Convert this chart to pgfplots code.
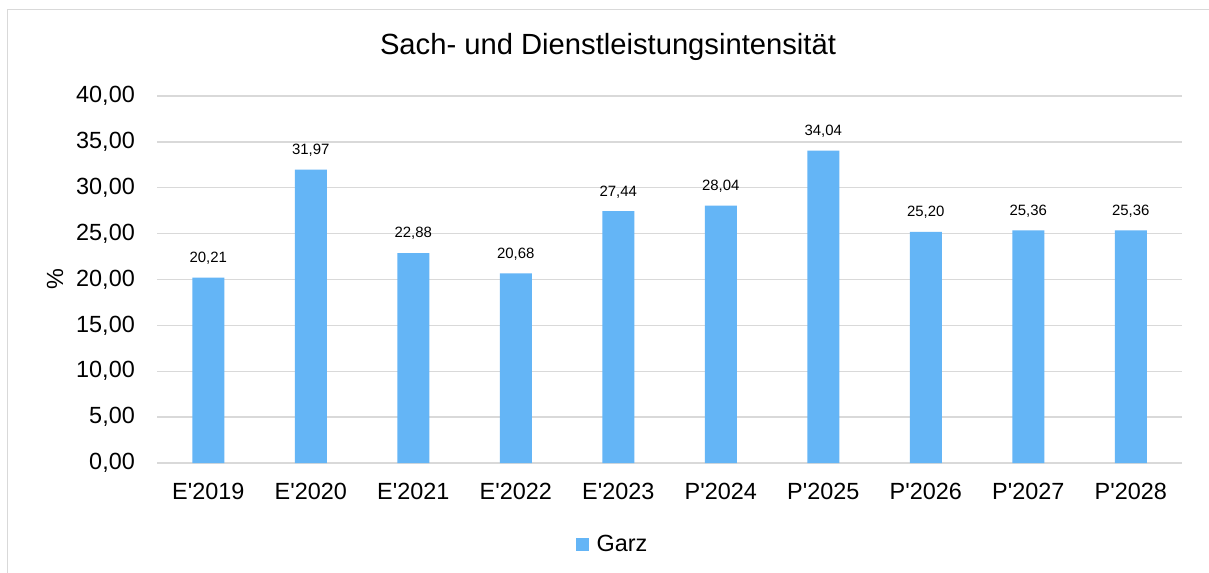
\documentclass[border=0pt]{standalone}
\usepackage{pgfplots}
\pgfplotsset{compat=1.18}
\usepackage{fontspec}
\setmainfont{Liberation Sans}
\definecolor{barblue}{HTML}{64B5F6}
\definecolor{gridgray}{HTML}{D9D9D9}
\newcommand{\q}{\textquotesingle}
\begin{document}
\begin{tikzpicture}
\useasboundingbox (0,0) rectangle (1209bp,-573bp);
\fill[white] (0,0) rectangle (1209bp,-573bp);
\draw[gridgray, line width=1.5bp] (7.5bp,-590bp) -- (7.5bp,-9.5bp) -- (1230bp,-9.5bp);
\node[font=\fontsize{29.3}{33}\selectfont, anchor=center] at (608bp,-47bp) {Sach- und Dienstleistungsintensität};
\begin{axis}[
  at={(157bp,-463bp)}, anchor=south west,
  scale only axis, width=1025bp, height=367bp,
  ymin=0, ymax=40, ytick={0,5,...,40},
  xmin=-0.5, xmax=9.5,
  xtick={0,...,9},
  xticklabels={E\q2019,E\q2020,E\q2021,E\q2022,E\q2023,P\q2024,P\q2025,P\q2026,P\q2027,P\q2028},
  ybar, bar width=32bp,
  axis line style={draw=none},
  major tick length=0pt,
  ymajorgrids, grid style={gridgray, line width=1.3bp},
  /pgf/number format/assume math mode=true,
  yticklabel={\pgfmathprintnumber[fixed,fixed zerofill,precision=2,use comma]{\tick}},
  tick label style={font=\fontsize{23.5}{28}\selectfont},
  yticklabel style={anchor=east, inner sep=0pt, xshift=-22bp},
  xticklabel style={anchor=north, inner sep=0pt, yshift=-20bp},
  ylabel={\%},
  every axis y label/.style={at={(axis description cs:-0.0995,0.5)}, rotate=90, anchor=center, font=\fontsize{23.5}{28}\selectfont},
  nodes near coords={\pgfmathprintnumber[fixed,fixed zerofill,precision=2,use comma]{\pgfplotspointmeta}},
  every node near coord/.append style={font=\fontsize{15}{18}\selectfont, inner sep=0pt, anchor=south, yshift=13bp, black},
  legend style={draw=none, at={(0.4444,-0.2207)}, anchor=center, font=\fontsize{23.5}{28}\selectfont, inner sep=0pt,
    /tikz/every odd column/.append style={column sep=6bp}},
  legend image code/.code={\fill[barblue] (0bp,-6.5bp) rectangle (13bp,6.5bp);},
]
\addplot[fill=barblue, draw=none] coordinates {
(0,20.21) (1,31.97) (2,22.88) (3,20.68) (4,27.44)
(5,28.04) (6,34.04) (7,25.20) (8,25.36) (9,25.36)};
\addlegendentry{Garz}
\end{axis}
\end{tikzpicture}
\end{document}
